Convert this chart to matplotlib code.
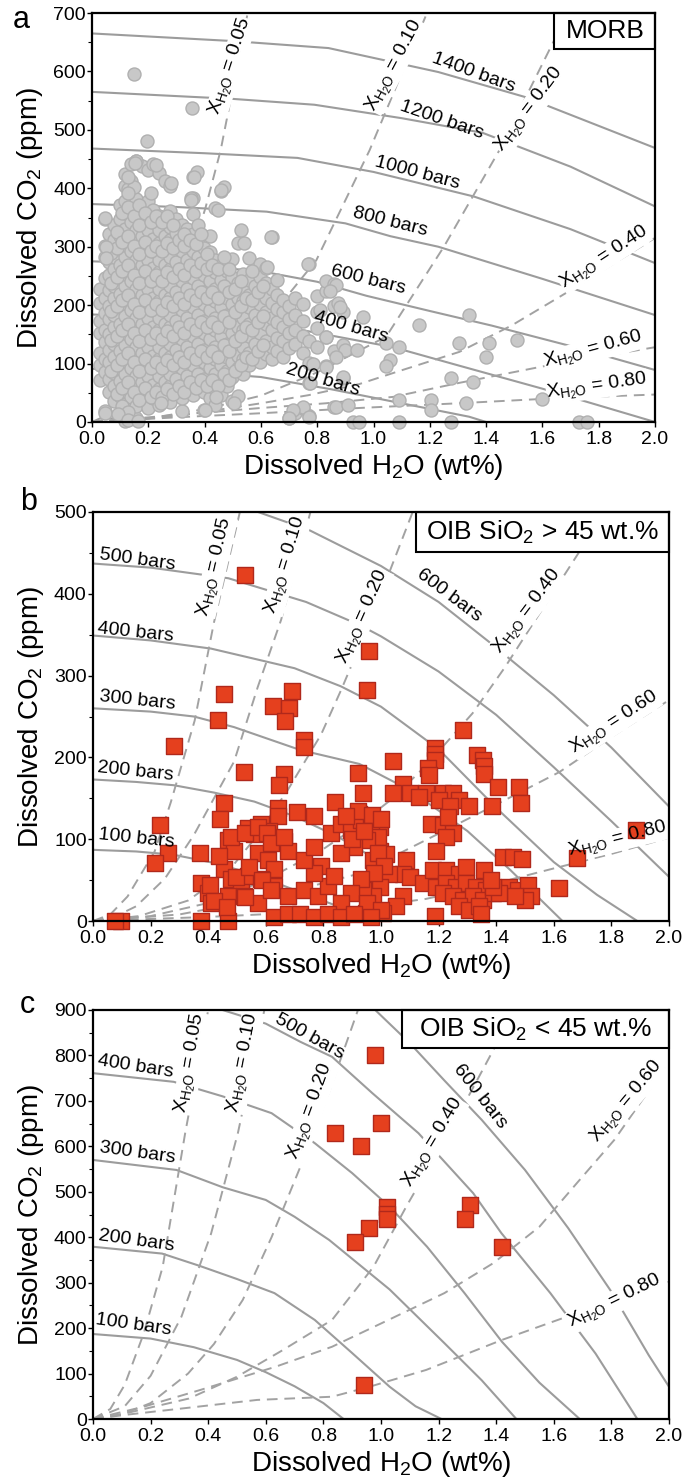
import matplotlib
matplotlib.use("Agg")
import matplotlib.pyplot as plt
from matplotlib.patches import Rectangle
from matplotlib.ticker import MultipleLocator, FormatStrFormatter
import numpy as np

plt.rcParams['font.family'] = ['Liberation Sans', 'DejaVu Sans']
plt.rcParams['mathtext.fontset'] = 'custom'
plt.rcParams['mathtext.rm'] = 'Liberation Sans'
plt.rcParams['mathtext.it'] = 'Liberation Sans:italic'
plt.rcParams['mathtext.bf'] = 'Liberation Sans:bold'

# ---------------- DATA ----------------
# Panel a: MORB (dense core as columns: h2o, list of co2)
morb_core = [
    (0.030, [72, 98, 118, 152, 173, 203, 228]),
    (0.045, [18, 86, 108, 137, 158, 187, 213, 247, 282, 302, 348]),
    (0.060, [52, 73, 102, 124, 151, 177, 198, 226, 252, 273, 321]),
    (0.078, [36, 62, 84, 112, 133, 162, 183, 212, 233, 262, 283, 312, 338]),
    (0.098, [14, 44, 71, 93, 122, 147, 168, 196, 219, 247, 268, 296, 318, 347, 371]),
    (0.118, [2, 31, 53, 82, 104, 132, 153, 182, 203, 232, 254, 282, 303, 331, 357, 378, 404, 424]),
    (0.138, [42, 63, 92, 113, 142, 163, 192, 213, 242, 263, 292, 313, 342, 363, 392, 413, 441]),
    (0.158, [6, 28, 57, 78, 107, 128, 157, 178, 207, 228, 257, 278, 307, 328, 357, 382, 446]),
    (0.178, [47, 68, 97, 118, 147, 168, 197, 218, 247, 268, 297, 318, 347, 368, 438]),
    (0.198, [24, 56, 78, 107, 128, 157, 178, 207, 228, 257, 278, 307, 328, 357, 378, 431]),
    (0.218, [41, 63, 92, 113, 142, 163, 192, 213, 242, 263, 292, 313, 342, 363, 442]),
    (0.238, [29, 57, 78, 107, 128, 157, 178, 207, 228, 257, 278, 307, 328, 353, 426]),
    (0.258, [46, 68, 97, 118, 147, 168, 197, 218, 247, 268, 297, 318, 343, 413]),
    (0.278, [34, 62, 83, 112, 133, 162, 183, 212, 233, 262, 283, 312, 333, 361, 404]),
    (0.298, [52, 73, 102, 123, 152, 173, 202, 223, 252, 273, 302, 323, 348]),
    (0.318, [19, 41, 63, 92, 113, 142, 163, 192, 213, 242, 263, 292, 313, 338]),
    (0.338, [57, 78, 107, 128, 157, 178, 207, 228, 257, 278, 303, 331]),
    (0.358, [46, 68, 97, 118, 147, 168, 197, 218, 247, 268, 293, 321, 356, 384, 419]),
    (0.378, [62, 83, 112, 133, 162, 183, 212, 233, 262, 283, 312, 338]),
    (0.398, [21, 51, 73, 102, 123, 152, 173, 202, 223, 252, 273, 298]),
    (0.418, [41, 66, 92, 113, 142, 163, 192, 213, 242, 263, 291, 318]),
    (0.438, [29, 57, 82, 107, 128, 157, 178, 207, 228, 257, 278, 366]),
    (0.458, [46, 71, 97, 118, 147, 168, 197, 218, 243, 268, 396]),
    (0.478, [62, 87, 112, 133, 162, 183, 212, 233, 258]),
    (0.498, [36, 77, 102, 123, 152, 173, 202, 223, 248, 279]),
    (0.518, [44, 92, 113, 142, 163, 192, 213, 238, 306]),
    (0.538, [82, 107, 128, 157, 178, 207, 228, 254]),
    (0.558, [97, 118, 147, 168, 197, 218, 243, 281]),
    (0.578, [112, 133, 162, 183, 212, 233]),
    (0.598, [102, 123, 152, 173, 202, 223, 248, 271]),
    (0.618, [117, 138, 167, 188, 213, 238, 263]),
    (0.638, [107, 128, 157, 178, 203, 228, 316]),
    (0.658, [122, 143, 172, 193, 218, 243]),
    (0.678, [112, 138, 163, 188, 208]),
    (0.700, [6, 127, 152, 177, 198]),
    (0.722, [16, 133, 158, 183, 213]),
    (0.748, [24, 118, 147, 173, 202]),
    (0.772, [11, 66, 101, 138, 271]),
    (0.800, [128, 161, 188, 216]),
    (0.830, [96, 146, 224, 241]),
    (0.860, [26, 121, 198, 236]),
    (0.890, [76, 131, 189]),
]
# second, interleaved set of MORB columns in the densest part of the cloud
morb_core_fill = [
    (0.068, [88, 140, 190, 238, 290]),
    (0.088, [48, 98, 148, 198, 248, 298, 325]),
    (0.108, [28, 58, 108, 158, 208, 258, 308, 358]),
    (0.128, [17, 68, 118, 168, 218, 268, 318, 368, 398]),
    (0.148, [52, 102, 152, 202, 252, 302, 352, 402]),
    (0.168, [38, 88, 138, 188, 238, 288, 338, 372]),
    (0.188, [58, 108, 158, 208, 258, 308, 358]),
    (0.208, [42, 92, 142, 192, 242, 292, 342, 392]),
    (0.228, [52, 102, 152, 202, 252, 302, 352]),
    (0.248, [42, 92, 142, 192, 242, 292, 342]),
    (0.268, [56, 106, 156, 206, 256, 306, 352]),
    (0.288, [48, 98, 148, 198, 248, 298, 338]),
    (0.308, [62, 112, 162, 212, 262, 312]),
    (0.328, [52, 102, 152, 202, 252, 302, 322]),
    (0.348, [68, 118, 168, 218, 268, 312]),
    (0.368, [58, 108, 158, 208, 258, 305]),
    (0.388, [72, 122, 172, 222, 272, 322]),
    (0.408, [62, 112, 162, 212, 262, 288]),
    (0.428, [72, 122, 172, 222, 268]),
    (0.448, [62, 112, 162, 212, 262]),
    (0.468, [82, 132, 182, 232, 282]),
    (0.488, [72, 122, 172, 222, 262]),
    (0.508, [88, 138, 188, 228]),
    (0.528, [98, 148, 198, 242]),
    (0.548, [112, 162, 212]),
    (0.568, [108, 158, 208, 258]),
    (0.588, [122, 172, 222]),
    (0.608, [132, 182, 232]),
]
morb_out_h2o = [0.148, 0.354, 0.195, 0.156, 0.374, 0.468, 0.35, 0.151, 0.227, 0.28, 0.128, 0.128,
                0.364, 0.458, 0.351, 0.447, 0.045, 0.05, 0.05, 0.528, 0.635, 0.54,
                0.767, 0.62, 0.868, 0.874, 0.962, 1.163, 1.34, 1.305, 1.41, 1.40, 1.51, 1.045,
                1.057, 1.09, 1.045, 1.275, 1.352, 1.092, 1.204, 1.204, 1.33, 1.60, 1.73, 1.76,
                1.09, 0.926, 0.95, 1.275, 0.75, 0.713, 0.77, 0.70, 0.868, 0.91, 0.844, 0.88,
                0.81, 0.832, 0.9, 0.94, 0.868, 0.832, 0.785, 0.89, 0.773,
                0.045, 0.092, 0.128, 0.163, 0.245, 0.4, 0.506, 0.44]
morb_out_co2 = [596, 537, 481, 447, 428, 402, 383, 443, 440, 409, 420, 392,
                420, 397, 380, 363, 349, 300, 280, 329, 317, 306,
                271, 266, 235, 203, 180, 166, 183, 135, 135, 111, 140, 135,
                106, 128, 95, 75, 69, 38, 38, 21, 32, 40, 0, 0,
                0, 0, 0, 0, 26, 20, 9, 6, 26, 29, 225, 197,
                192, 146, 123, 123, 111, 94, 100, 77, 66,
                15, 13, 3, 2, 32, 20, 32, 43]

# Panel b: OIB SiO2 > 45 wt.%
oibh_h2o = [0.527, 0.959, 0.951, 0.454, 0.691, 0.624, 0.682, 0.665, 0.433, 0.734, 0.734, 0.281,
            0.523, 0.664, 0.647, 0.921, 0.939, 0.456, 0.442, 0.641, 0.641, 0.234, 0.84, 0.71,
            0.768, 0.26, 0.214, 0.373,
            1.286, 1.189, 1.189, 1.189, 1.041, 1.163, 1.168, 1.335, 1.353, 1.358, 1.358, 1.405,
            1.478, 1.486, 1.387, 1.075, 1.041, 1.099, 1.157, 1.215, 1.25, 1.272, 1.203, 1.133,
            1.307, 1.238, 0.925, 0.96, 0.995, 1.174, 1.214, 1.249, 1.226, 1.232, 1.19, 0.995,
            1.018, 0.972, 1.087, 1.075, 1.099, 1.029, 0.995, 0.972, 0.937, 1.075, 1.052, 1.006,
            0.949, 1.145, 1.18, 1.226, 1.272, 1.295, 1.358, 1.19, 1.226, 1.261, 1.295, 1.33,
            1.365, 1.214, 1.249, 1.284, 1.318, 1.353, 1.388, 1.272, 1.307, 1.342, 1.186, 1.347,
            1.422, 1.457, 1.491, 1.446, 1.475, 1.51, 1.52, 1.5, 1.464, 1.41, 1.388, 1.619,
            1.682, 1.884, 1.382,
            0.468, 0.49, 0.537, 0.56, 0.583, 0.612, 0.63, 0.664, 0.676, 0.572, 0.607, 0.63,
            0.456, 0.479, 0.514, 0.537, 0.584, 0.376, 0.399, 0.41, 0.468, 0.526, 0.572, 0.63,
            0.676, 0.734, 0.78, 0.815, 0.791, 0.838, 0.768, 0.734, 0.768, 0.826, 0.86, 0.895,
            0.93, 0.965, 0.988, 0.953, 0.907, 0.86, 0.988, 1.01, 0.977, 0.93, 0.895, 0.86,
            0.953, 1.0,
            0.098, 0.075, 0.376, 0.468, 0.63, 0.676, 0.72, 0.768, 0.815, 0.86, 0.907, 0.965,
            0.436, 0.48, 0.527, 0.573, 0.603, 0.618, 0.664, 0.405, 0.497, 0.542, 0.588, 0.618,
            0.421, 0.466, 0.527, 0.92, 0.97, 0.90, 0.88, 1.0, 0.94]
oibh_co2 = [423, 330, 282, 278, 281, 263, 261, 245, 246, 221, 213, 214,
            182, 180, 166, 181, 157, 144, 125, 138, 128, 117, 146, 133,
            128, 83, 71, 83,
            233, 211, 204, 197, 196, 187, 178, 203, 197, 189, 180, 164,
            164, 144, 140, 168, 156, 156, 156, 156, 156, 148, 148, 152,
            140, 140, 131, 123, 115, 119, 117, 107, 103, 127, 86, 86,
            82, 74, 74, 58, 54, 58, 42, 30, 38, 30, 18, 10,
            10, 46, 62, 62, 58, 66, 62, 42, 46, 42, 46, 42,
            38, 34, 30, 26, 30, 26, 34, 18, 14, 18, 6, 8,
            78, 78, 76, 42, 38, 44, 30, 26, 30, 34, 42, 40,
            77, 111, 50,
            99, 86, 114, 106, 118, 110, 98, 98, 86, 83, 75, 63,
            63, 51, 43, 55, 51, 46, 34, 22, 30, 30, 22, 43,
            30, 38, 30, 43, 67, 55, 59, 75, 91, 107, 119, 111,
            123, 115, 103, 99, 91, 83, 83, 67, 59, 51, 34, 22,
            22, 14,
            0, 0, 0, 0, 5, 9, 9, 5, 9, 5, 9, 5,
            79, 103, 107, 115, 107, 95, 103, 44, 54, 66, 50, 38,
            25, 17, 29, 135, 130, 100, 128, 125, 110]

# Panel c: OIB SiO2 < 45 wt.%
oibl_h2o = [0.98, 1.00, 0.84, 0.93, 1.02, 1.02, 1.02, 0.96, 0.91, 1.31, 1.29, 1.42, 0.94]
oibl_co2 = [801, 651, 630, 601, 466, 452, 440, 420, 389, 471, 439, 379, 75]

# Isobars (solid) and isopleths (dashed): (H2O wt%, CO2 ppm)
isobars_a = {
    1400: [(0, 665), (0.5, 652), (0.84, 640), (1.23, 599), (1.54, 556), (2.0, 469)],
    1200: [(0, 565), (0.5, 553), (0.79, 543), (1.1, 520), (1.387, 495), (1.7, 437), (2.0, 369)],
    1000: [(0, 468), (0.4, 460), (0.73, 452), (1.0, 428), (1.356, 386), (1.7, 330), (2.0, 272)],
    800: [(0, 373), (0.3, 368), (0.62, 360), (0.9, 340), (1.06, 318), (1.23, 300), (1.6, 245), (2.0, 183)],
    600: [(0, 275), (0.3, 270), (0.6, 258), (0.8, 240), (0.975, 216), (1.2, 190), (1.42, 165), (1.7, 130), (2.0, 89)],
    400: [(0, 184), (0.3, 180), (0.55, 172), (0.75, 157), (1.07, 128), (1.3, 97), (1.6, 57), (2.0, 0)],
    200: [(0, 91), (0.3, 88), (0.6, 77), (0.85, 56), (1.1, 32), (1.34, 9), (1.4, 0)],
}
isopleths_a = {
    '0.05': [(0, 0), (0.1, 22), (0.2, 90), (0.3, 203), (0.404, 368), (0.457, 465), (0.553, 700)],
    '0.10': [(0, 0), (0.2, 18), (0.4, 72), (0.6, 160), (0.797, 277), (0.986, 465), (1.19, 700)],
    '0.20': [(0, 0), (0.2, 6), (0.4, 22), (0.6, 45), (0.8, 85), (1.045, 146), (1.25, 300), (1.447, 465), (1.69, 700)],
    '0.40': [(0, 0), (0.3, 10), (0.6, 32), (0.77, 46), (0.95, 65), (1.09, 87), (1.305, 120), (1.49, 165), (1.695, 224), (2.0, 315)],
    '0.60': [(0, 0), (0.3, 12), (0.6, 24), (0.83, 32), (1.07, 43), (1.305, 67), (1.6, 95), (2.0, 128)],
    '0.80': [(0, 0), (0.3, 8), (0.6, 15), (0.95, 24), (1.3, 32), (1.66, 41), (2.0, 47)],
}
isobars_b = {
    100: [(0, 87), (0.15, 85), (0.28, 81), (0.42, 71), (0.55, 58), (0.7, 38), (0.85, 18), (0.98, 0)],
    200: [(0, 173), (0.15, 170), (0.28, 166), (0.42, 157), (0.56, 146), (0.7, 128), (0.85, 103), (1.0, 72), (1.15, 40), (1.3, 10), (1.36, 0)],
    300: [(0, 260), (0.2, 256), (0.35, 250), (0.49, 237), (0.72, 209), (0.925, 192), (1.1, 160), (1.3, 110), (1.45, 62), (1.63, 0)],
    400: [(0, 349), (0.2, 343), (0.41, 333), (0.7, 309), (0.86, 287), (1.0, 262), (1.2, 210), (1.41, 135), (1.6, 72), (1.75, 32), (1.89, 0)],
    500: [(0, 437), (0.2, 432), (0.47, 419), (0.74, 390), (0.925, 362), (1.0, 348), (1.2, 305), (1.4, 252), (1.6, 188), (1.8, 122), (2.0, 54)],
    600: [(0.573, 500), (0.75, 478), (1.0, 434), (1.2, 390), (1.376, 341), (1.6, 276), (1.8, 212), (2.0, 140)],
}
isopleths_b = {
    '0.05': [(0, 0), (0.06, 8), (0.12, 30), (0.214, 85), (0.27, 145), (0.353, 245), (0.42, 365), (0.51, 500)],
    '0.10': [(0, 0), (0.08, 6), (0.15, 18), (0.25, 52), (0.35, 105), (0.49, 195), (0.572, 286), (0.653, 368), (0.755, 500)],
    '0.20': [(0, 0), (0.16, 6), (0.33, 25), (0.468, 60), (0.56, 100), (0.676, 160), (0.792, 228), (0.861, 282), (0.967, 370), (1.11, 500)],
    '0.40': [(0, 0), (0.2, 6), (0.4, 22), (0.6, 50), (0.8, 88), (0.925, 118), (1.041, 150), (1.156, 190), (1.318, 254), (1.43, 310), (1.503, 350), (1.688, 451), (1.78, 500)],
    '0.60': [(0, 0), (0.3, 8), (0.6, 28), (0.925, 58), (1.156, 99), (1.387, 140), (1.619, 182), (1.8, 225), (2.0, 270)],
    '0.80': [(0, 0), (0.4, 5), (0.7, 10), (0.925, 16), (1.156, 27), (1.387, 45), (1.619, 66), (1.8, 82), (2.0, 102)],
}
isobars_c = {
    100: [(0, 187), (0.2, 177), (0.35, 158), (0.5, 130), (0.6, 103), (0.7, 72), (0.8, 35), (0.87, 0)],
    200: [(0, 379), (0.24, 364), (0.37, 337), (0.5, 308), (0.63, 277), (0.77, 218), (0.9, 145), (1.03, 71), (1.12, 28), (1.21, 0)],
    300: [(0, 570), (0.29, 548), (0.45, 510), (0.6, 482), (0.7, 445), (0.82, 394), (1.03, 285), (1.22, 167), (1.35, 85), (1.47, 0)],
    400: [(0, 761), (0.28, 742), (0.45, 710), (0.62, 673), (0.77, 607), (0.9, 541), (1.03, 467), (1.16, 379), (1.29, 277), (1.42, 170), (1.55, 80), (1.69, 0)],
    500: [(0.45, 900), (0.6, 870), (0.72, 830), (0.83, 797), (0.97, 717), (1.13, 629), (1.32, 497), (1.418, 409), (1.588, 277), (1.745, 144), (1.89, 0)],
    600: [(0.98, 900), (1.10, 827), (1.22, 745), (1.35, 658), (1.5, 548), (1.65, 420), (1.8, 280), (1.93, 140), (2.0, 71)],
}
isopleths_c = {
    '0.05': [(0, 0), (0.06, 22), (0.11, 75), (0.176, 188), (0.242, 335), (0.32, 629), (0.4, 900)],
    '0.10': [(0, 0), (0.11, 28), (0.2, 95), (0.307, 225), (0.41, 408), (0.503, 629), (0.595, 900)],
    '0.20': [(0, 0), (0.1, 10), (0.2, 35), (0.33, 100), (0.42, 165), (0.52, 262), (0.62, 400), (0.72, 555), (0.82, 720), (0.92, 900)],
    '0.40': [(0, 0), (0.11, 12), (0.333, 45), (0.5, 93), (0.66, 152), (0.83, 218), (0.974, 335), (1.09, 470), (1.235, 629), (1.39, 812), (1.46, 900)],
    '0.60': [(0, 0), (0.176, 27), (0.373, 64), (0.634, 115), (0.83, 159), (1.026, 218), (1.22, 277), (1.39, 343), (1.55, 423), (1.68, 519), (1.81, 614), (1.98, 768), (2.0, 785)],
    '0.80': [(0, 0), (0.11, 9), (0.307, 23), (0.57, 42), (0.83, 49), (0.96, 71), (1.157, 108), (1.42, 174), (1.68, 233), (1.98, 298), (2.0, 302)],
}

# Label placements (x, y, rotation)
isobar_labels_a = {1400: (1.357, 597, -20), 1200: (1.243, 517, -19), 1000: (1.155, 426, -15),
                   800: (1.06, 342, -14), 600: (0.98, 243, -14), 400: (0.92, 163, -16), 200: (0.82, 72, -17)}
isopleth_labels_a = {'0.05': (0.494, 608, 72), '0.10': (1.076, 610, 62), '0.20': (1.556, 534, 53),
                     '0.40': (1.819, 281, 33), '0.60': (1.78, 123, 15), '0.80': (1.794, 60, 8)}
isobar_labels_b = {500: (0.156, 441, -8), 400: (0.149, 353, -6), 300: (0.156, 270, -6),
                   200: (0.149, 183, -6), 100: (0.152, 101, -6), 600: (1.237, 398, -37)}
isopleth_labels_b = {'0.05': (0.425, 433, 77), '0.10': (0.672, 435, 73), '0.20': (0.938, 372, 66),
                     '0.40': (1.508, 378, 53), '0.60': (1.81, 242, 33), '0.80': (1.82, 99, 14)}
isobar_labels_c = {400: (0.146, 775, -9), 300: (0.156, 585, -8), 200: (0.152, 392, -8),
                   100: (0.142, 207, -8), 500: (0.752, 841, -29), 600: (1.345, 709, -52)}
isopleth_labels_c = {'0.05': (0.341, 783, 80), '0.10': (0.523, 783, 79), '0.20': (0.758, 676, 70),
                     '0.40': (1.182, 607, 59), '0.60': (1.853, 698, 50), '0.80': (1.813, 258, 26)}

x_ticks = [0.0, 0.2, 0.4, 0.6, 0.8, 1.0, 1.2, 1.4, 1.6, 1.8, 2.0]

# ---------------- FIGURE ----------------
W, H = 683, 1481
fig = plt.figure(figsize=(W / 100, H / 100), dpi=100)


def add_ax(l, r, t, b):
    return fig.add_axes([l / W, 1 - b / H, (r - l) / W, (b - t) / H])


axa = add_ax(92, 655, 13, 422)
axb = add_ax(93, 669, 512, 921)
axc = add_ax(93, 669, 1010, 1419)

LINE_C = '#9c9c9c'
DASH_C = '#a2a2a2'


def draw_curves(ax, isobars, isopleths):
    for p, pts in isobars.items():
        xs, ys = zip(*pts)
        ax.plot(xs, ys, color=LINE_C, lw=1.5, zorder=2, solid_capstyle='butt')
    for k, pts in isopleths.items():
        xs, ys = zip(*pts)
        ax.plot(xs, ys, color=DASH_C, lw=1.4, ls=(0, (5.5, 3.5)), zorder=2)


def draw_labels(ax, isobar_labels, isopleth_labels):
    for p, (x, y, r) in isobar_labels.items():
        ax.text(x, y, f'{p} bars', rotation=r, rotation_mode='anchor', ha='center', va='center',
                fontsize=14, zorder=6)
    for k, (x, y, r) in isopleth_labels.items():
        s = r'X$_{\mathrm{H_2O}}$ = ' + k
        ax.text(x, y, s, rotation=r, rotation_mode='anchor', ha='center', va='center',
                fontsize=14, color='white', zorder=2.5,
                bbox=dict(facecolor='white', edgecolor='none', pad=0.3))
        ax.text(x, y, s, rotation=r, rotation_mode='anchor', ha='center', va='center',
                fontsize=14, color='black', zorder=6)


def style_axis(ax, ymax, ystep=100):
    ax.set_xlim(0, 2.0)
    ax.set_ylim(0, ymax)
    ax.set_xticks(x_ticks)
    ax.xaxis.set_major_formatter(FormatStrFormatter('%.1f'))
    ax.yaxis.set_major_locator(MultipleLocator(ystep))
    ax.yaxis.set_minor_locator(MultipleLocator(ystep / 2))
    ax.tick_params(axis='both', which='major', direction='out', length=3.5, width=1.0,
                   labelsize=14)
    ax.tick_params(axis='x', which='major', pad=3)
    ax.tick_params(axis='y', which='major', pad=1)
    ax.tick_params(axis='y', which='minor', direction='out', length=3, width=0.8)
    for sp in ax.spines.values():
        sp.set_linewidth(1.6)
        sp.set_color('black')
        sp.set_zorder(9)
    ax.set_xlabel('Dissolved H$_2$O (wt%)', fontsize=20)
    ax.set_ylabel('Dissolved CO$_2$ (ppm)', fontsize=20)


def label_box(ax, x0, y0, text, tx, ty):
    ax.add_patch(Rectangle((x0, y0), 1 - x0, 1 - y0, transform=ax.transAxes, facecolor='white',
                           edgecolor='black', lw=1.5, zorder=7, clip_on=False))
    ax.text(tx, ty, text, transform=ax.transAxes, ha='center', va='center', fontsize=19, zorder=8)


# Panel a
draw_curves(axa, isobars_a, isopleths_a)
core_x, core_y = [], []
for xv, ys in morb_core + morb_core_fill:
    core_x += [xv] * len(ys)
    core_y += ys
axa.scatter(core_x + morb_out_h2o, core_y + morb_out_co2, s=88, marker='o', facecolor='#c8c8c8',
            edgecolor='#b0b0b0', linewidth=1.0, zorder=4, clip_on=False)
draw_labels(axa, isobar_labels_a, isopleth_labels_a)
style_axis(axa, 700)
label_box(axa, 0.8206, 0.912, 'MORB', 0.911, 0.955)

# Panel b
draw_curves(axb, isobars_b, isopleths_b)
axb.scatter(oibh_h2o, oibh_co2, s=125, marker='s', facecolor='#e5401e', edgecolor='#b0281b',
            linewidth=1.0, zorder=4, clip_on=False)
draw_labels(axb, isobar_labels_b, isopleth_labels_b)
style_axis(axb, 500)
label_box(axb, 0.561, 0.902, 'OIB SiO$_2$ > 45 wt.%', 0.781, 0.950)

# Panel c
draw_curves(axc, isobars_c, isopleths_c)
axc.scatter(oibl_h2o, oibl_co2, s=125, marker='s', facecolor='#e5401e', edgecolor='#b0281b',
            linewidth=1.0, zorder=4, clip_on=False)
draw_labels(axc, isobar_labels_c, isopleth_labels_c)
style_axis(axc, 900)
label_box(axc, 0.536, 0.907, 'OIB SiO$_2$ < 45 wt.%', 0.768, 0.953)

for ax, w_ax in ((axa, 563), (axb, 576), (axc, 576)):
    ax.xaxis.set_label_coords(0.5, -30 / 409)
    ax.yaxis.set_label_coords(-47 / w_ax, 0.5)

# Panel letters
fig.text(13 / W, 1 - 28 / H, 'a', fontsize=22, va='baseline', ha='left')
fig.text(20 / W, 1 - 510 / H, 'b', fontsize=22, va='baseline', ha='left')
fig.text(20 / W, 1 - 1013 / H, 'c', fontsize=22, va='baseline', ha='left')

fig.savefig('out.png', dpi=100)
